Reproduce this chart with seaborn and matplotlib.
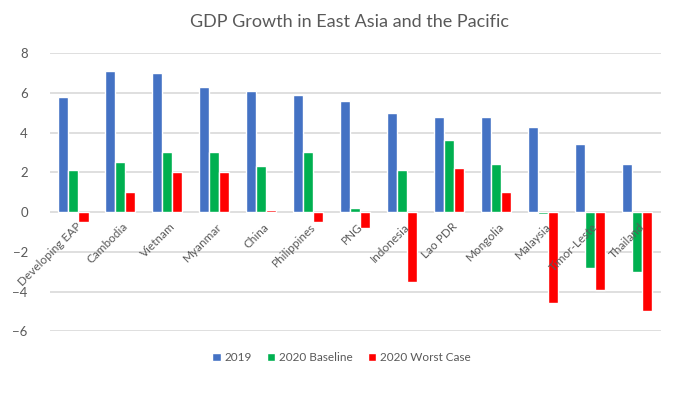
import numpy as np
import pandas as pd
import seaborn as sns
import matplotlib.pyplot as plt
from matplotlib import transforms

# Data
countries = ['Developing EAP', 'Cambodia', 'Vietnam', 'Myanmar', 'China', 'Philippines', 'PNG',
             'Indonesia', 'Lao PDR', 'Mongolia', 'Malaysia', 'Timor-Leste', 'Thailand']
growth_2019 = [5.8, 7.1, 7.0, 6.3, 6.1, 5.9, 5.6, 5.0, 4.8, 4.8, 4.3, 3.4, 2.4]
growth_2020_base = [2.1, 2.5, 3.0, 3.0, 2.3, 3.0, 0.2, 2.1, 3.6, 2.4, -0.1, -2.8, -3.0]
growth_2020_worst = [-0.5, 1.0, 2.0, 2.0, 0.1, -0.5, -0.8, -3.5, 2.2, 1.0, -4.6, -3.9, -5.0]
series = ['2019', '2020 Baseline', '2020 Worst Case']
kleuren = ['#4472C4', '#00B050', '#FF0000']

df = pd.DataFrame({'country': countries * 3,
                   'serie': np.repeat(series, len(countries)),
                   'value': growth_2019 + growth_2020_base + growth_2020_worst})

sns.set_style('white')
plt.rcParams['font.family'] = ['Lato', 'DejaVu Sans']
text_kleur = '#595959'

fig = plt.figure(figsize=(6.98, 3.99), dpi=100)
ax = fig.add_axes([0.0716, 0.1697, 0.875, 0.6975])

sns.barplot(data=df, x='country', y='value', hue='serie', hue_order=series,
            palette=kleuren, width=0.64, saturation=1, ax=ax, legend=True)

ax.set_ylim(-6, 8)
ax.set_yticks(range(-6, 9, 2))
ax.set_xlim(-0.5, len(countries) - 0.5)
ax.yaxis.grid(True, color='#D9D9D9', linewidth=1.2)
ax.set_axisbelow(True)
for s in ax.spines.values():
    s.set_visible(False)
ax.set_xlabel('')
ax.set_ylabel('')
ax.tick_params(axis='y', length=0, labelsize=9.5, labelcolor=text_kleur, pad=16)
ax.set_xticks(range(len(countries)))
ax.set_xticklabels([])
ax.tick_params(axis='x', length=0)

# category labels rotated next to the zero line
offset = transforms.ScaledTranslation(2 / 100, -9 / 100, fig.dpi_scale_trans)
for i, naam in enumerate(countries):
    ax.text(i, 0, naam, rotation=45, rotation_mode='anchor', ha='right', va='top',
            fontsize=8.5, color=text_kleur, transform=ax.transData + offset)

ax.legend(loc='center', bbox_to_anchor=(0.477, -0.095), ncol=3, frameon=False,
          fontsize=8.5, handlelength=0.7, handleheight=0.7, handletextpad=0.3,
          columnspacing=1.3, labelcolor=text_kleur)

fig.suptitle('GDP Growth in East Asia and the Pacific', y=0.965, fontsize=13, color=text_kleur)

fig.savefig('out.png', dpi=100)
